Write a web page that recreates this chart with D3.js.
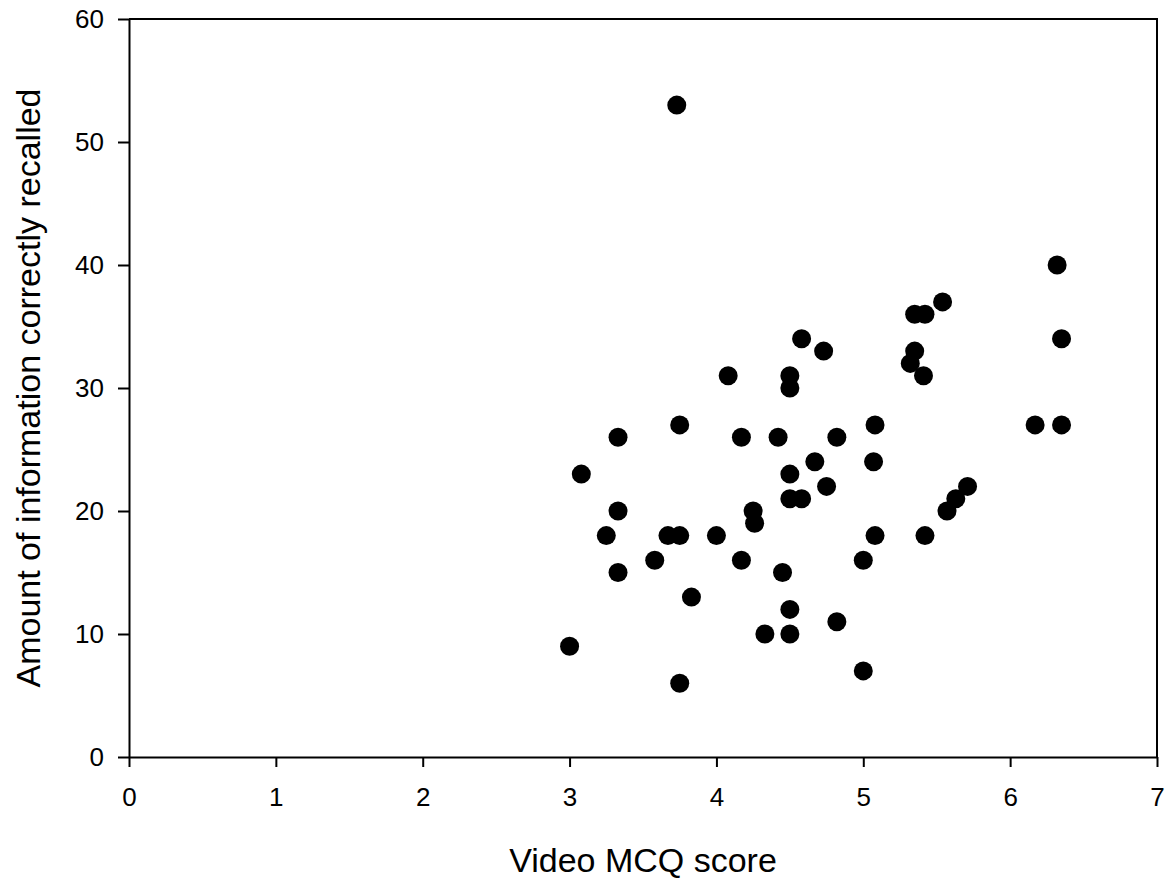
<!DOCTYPE html>
<html>
<head>
<meta charset="utf-8">
<script src="https://cdn.jsdelivr.net/npm/d3@7"></script>
<style>
  body { margin: 0; background: #fff; }
  text { font-family: "Liberation Sans", Arial, sans-serif; fill: #000; }
</style>
</head>
<body>
<svg width="1171" height="882"></svg>
<script>
// Data
const mcqScore = [3.00, 3.08, 3.25, 3.33, 3.33, 3.33, 3.58, 3.67, 3.75, 3.75, 3.73, 3.75, 3.83, 4.00,
  4.08, 4.17, 4.17, 4.25, 4.26, 4.33, 4.42, 4.45, 4.50, 4.50, 4.50, 4.50, 4.50, 4.50, 4.58, 4.58,
  4.67, 4.73, 4.75, 4.82, 4.82, 5.00, 5.00, 5.08, 5.07, 5.08, 5.32, 5.35, 5.35, 5.42, 5.41, 5.42,
  5.54, 5.57, 5.63, 5.71, 6.17, 6.32, 6.35, 6.35];
const recalled = [9, 23, 18, 26, 20, 15, 16, 18, 18, 27, 53, 6, 13, 18,
  31, 26, 16, 20, 19, 10, 26, 15, 31, 30, 23, 21, 12, 10, 34, 21,
  24, 33, 22, 26, 11, 16, 7, 27, 24, 18, 32, 36, 33, 36, 31, 18,
  37, 20, 21, 22, 27, 40, 34, 27];
const xTicks = [0, 1, 2, 3, 4, 5, 6, 7];
const yTicks = [0, 10, 20, 30, 40, 50, 60];

const svg = d3.select('svg');
const width = +svg.attr('width');
const height = +svg.attr('height');

const margin = { left: 129, right: 14, top: 19, bottom: 125 };
const innerWidth = width - margin.left - margin.right;
const innerHeight = height - margin.top - margin.bottom;

const g = svg.append('g')
    .attr('transform', `translate(${margin.left},${margin.top})`);

const xScale = d3.scaleLinear().domain([0, 7]).range([0, innerWidth]);
const yScale = d3.scaleLinear().domain([0, 60]).range([innerHeight, 0]);

// frame (top and right)
g.append('path')
    .attr('d', `M0,0H${innerWidth}V${innerHeight}`)
    .attr('fill', 'none')
    .attr('stroke', '#000')
    .attr('stroke-width', 2);

// x axis
const xAxisGroup = g.append('g')
    .attr('transform', `translate(0,${innerHeight})`)
    .call(d3.axisBottom(xScale).tickValues(xTicks).tickFormat(d3.format('d'))
        .tickSize(10).tickPadding(20).tickSizeOuter(0));
xAxisGroup.select('.domain').attr('stroke-width', 2);
xAxisGroup.selectAll('.tick line').attr('stroke-width', 2);
xAxisGroup.selectAll('.tick text').attr('y', 31);

xAxisGroup.append('text')
    .attr('class', 'labels')
    .attr('x', xScale(3.5))
    .attr('y', 115)
    .attr('text-anchor', 'middle')
    .text('Video MCQ score');

// y axis
const yAxisGroup = g.append('g')
    .call(d3.axisLeft(yScale).tickValues(yTicks).tickSize(11).tickPadding(14).tickSizeOuter(0));
yAxisGroup.select('.domain').attr('stroke-width', 2);
yAxisGroup.selectAll('.tick line').attr('stroke-width', 2);

yAxisGroup.append('text')
    .attr('class', 'labels')
    .attr('x', -yScale(30))
    .attr('y', -89)
    .attr('text-anchor', 'middle')
    .attr('transform', 'rotate(-90)')
    .text('Amount of information correctly recalled');

svg.selectAll('.tick text').style('font-size', '26px').attr('fill', '#000');
svg.selectAll('.labels').style('font-size', '34px').attr('fill', '#000');

// points
const points = mcqScore.map((x, i) => ({ x: x, y: recalled[i] }));
g.selectAll('circle')
    .data(points)
    .enter()
    .append('circle')
    .attr('cx', d => xScale(d.x))
    .attr('cy', d => yScale(d.y))
    .attr('r', 9.5)
    .attr('fill', '#000');
</script>
</body>
</html>
